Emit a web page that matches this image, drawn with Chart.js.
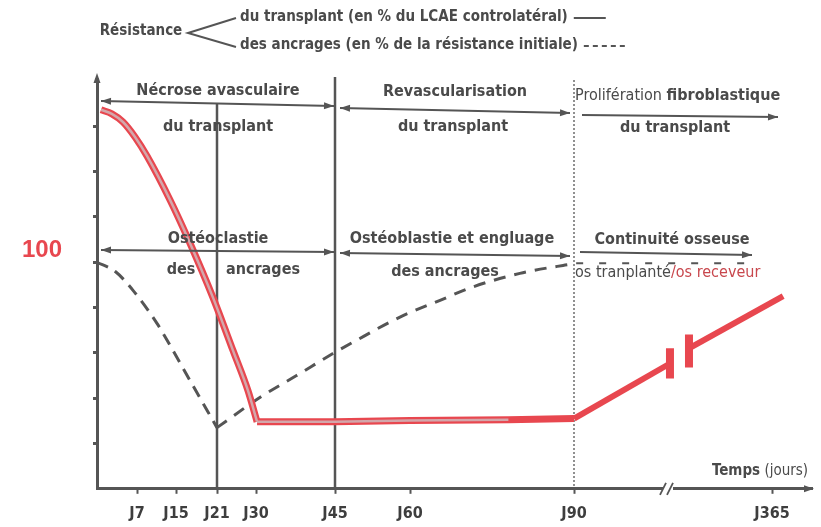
<!DOCTYPE html>
<html><head><meta charset="utf-8">
<script src="https://cdn.jsdelivr.net/npm/chart.js@4/dist/chart.umd.min.js"></script>
<style>html,body{margin:0;padding:0;background:#fff}#wrap{width:821px;height:527px}</style>
</head><body><div id="wrap"><canvas id="c" width="821" height="527"></canvas></div>
<script>
// ---------- DATA ----------
const xTickDays   = [7, 15, 21, 30, 45, 60, 90, 365];
const xTickLabels = ['J7', 'J15', 'J21', 'J30', 'J45', 'J60', 'J90', 'J365'];
const yTickValues = [20, 40, 60, 80, 100, 120, 140, 160];

// Résistance du transplant (% du LCAE controlatéral) — solid red
const transplantFallDays   = [0.7, 2.6, 4.55, 6.65, 9.05, 13.8, 17.05, 20.4, 24.7, 28.15, 30.2];
const transplantFallValues = [167.3, 165.5, 161.9, 155.3, 146.9, 127.4, 108.4, 84.5, 61.0, 43.3, 29.6];
const transplantFlatDays   = [30.2, 45, 60, 78, 90];
const transplantFlatValues = [29.6, 29.6, 30.1, 30.5, 31.0];
// late phase (after J90, broken axis)
const lateADays = [90, 223.3];     const lateAValues = [31.0, 55.3];
const breakADays = [223.3, 223.3]; const breakAValues = [48.7, 62.0];
const breakBDays = [249.7, 249.7]; const breakBValues = [53.5, 68.1];
const lateBDays = [249.7, 380.3];  const lateBValues = [62.0, 85.0];

// Résistance des ancrages (% de la résistance initiale) — dashed
const anchorDownDays   = [0, 3.15, 6.3, 11.1, 14.4, 17.05, 21];
const anchorDownValues = [100, 96.0, 87.6, 73.0, 61.0, 47.8, 27.0];
const anchorUpDays     = [21, 30.8, 37.7, 44.6, 48.6, 58, 65.5, 71.5, 80.1, 88, 90];
const anchorUpValues   = [27.0, 40.4, 50.0, 59.7, 64.7, 75.8, 83.2, 89.1, 95.1, 98.6, 99.3];
const anchorLateDays   = [93, 340];
const anchorLateValues = [99.6, 99.6];

// ---------- broken time scale (non-linear day axis as drawn) ----------
const xKnotDays = [0, 7, 15, 21, 30, 45, 60, 90, 365, 420];
const xKnotPx   = [97, 137, 176, 217, 256, 335, 410, 574, 772, 812];
const SPAN = xKnotPx[xKnotPx.length-1] - xKnotPx[0];
function dayToFrac(d){
  const n = xKnotDays.length;
  let i = 1;
  while (i < n-1 && d > xKnotDays[i]) i++;
  const t = (d - xKnotDays[i-1]) / (xKnotDays[i] - xKnotDays[i-1]);
  return (xKnotPx[i-1] + t*(xKnotPx[i]-xKnotPx[i-1]) - xKnotPx[0]) / SPAN;
}
function fracToDay(f){
  const p = xKnotPx[0] + f*SPAN, n = xKnotPx.length;
  let i = 1;
  while (i < n-1 && p > xKnotPx[i]) i++;
  const t = (p - xKnotPx[i-1]) / (xKnotPx[i] - xKnotPx[i-1]);
  return xKnotDays[i-1] + t*(xKnotDays[i]-xKnotDays[i-1]);
}
class BrokenTimeScale extends Chart.LinearScale {
  getPixelForValue(v){
    if (v === null || v === undefined || isNaN(v)) return NaN;
    return this.getPixelForDecimal(dayToFrac(v));
  }
  getValueForPixel(p){ return fracToDay(this.getDecimalForPixel(p)); }
}
BrokenTimeScale.id = 'brokenTime';
BrokenTimeScale.defaults = Chart.LinearScale.defaults;
Chart.register(BrokenTimeScale);

// ---------- styles ----------
const FF = '"Liberation Sans Narrow","DejaVu Sans Condensed","Arial Narrow",sans-serif';
const GRAY = '#555555';
const TXT = '#4a4a4a';
const RED = '#e8474f';
const PINK = '#d3a7ab';

const pts = (xs, ys) => xs.map((x, i) => ({x, y: ys[i]}));
const lineDs = (data, color, width, extra) => Object.assign({
  data, borderColor: color, borderWidth: width, pointRadius: 0, fill: false,
  tension: 0, borderCapStyle: 'butt', borderJoinStyle: 'round'
}, extra || {});
const MONO = {cubicInterpolationMode: 'monotone'};

const innerN = transplantFlatDays.indexOf(78) + 1;

// ---------- annotations plugin ----------
function txt(ctx, s, x, y, o){
  o = o || {};
  ctx.save();
  ctx.font = (o.bold === false ? '' : 'bold ') + (o.size || 16) + 'px ' + (o.family || FF);
  ctx.fillStyle = o.color || TXT;
  ctx.textAlign = o.align || 'center';
  ctx.textBaseline = 'middle';
  ctx.fillText(s, x, y);
  const w = ctx.measureText(s).width;
  ctx.restore();
  return w;
}
function head(ctx, x, y, ang){
  ctx.save(); ctx.translate(x, y); ctx.rotate(ang);
  ctx.beginPath(); ctx.moveTo(0, 0); ctx.lineTo(-10, -3.5); ctx.lineTo(-10, 3.5); ctx.closePath();
  ctx.fill(); ctx.restore();
}
function arrow(ctx, x1, y1, x2, y2, both){
  ctx.save();
  ctx.strokeStyle = GRAY; ctx.fillStyle = GRAY; ctx.lineWidth = 2;
  ctx.beginPath(); ctx.moveTo(x1, y1); ctx.lineTo(x2, y2); ctx.stroke();
  const a = Math.atan2(y2-y1, x2-x1);
  head(ctx, x2, y2, a);
  if (both) head(ctx, x1, y1, a + Math.PI);
  ctx.restore();
}

const annot = {
  id: 'annot',
  beforeDatasetsDraw(chart){
    const ctx = chart.ctx, xs = chart.scales.x, ys = chart.scales.y;
    const base = ys.getPixelForValue(0);
    ctx.save();
    ctx.strokeStyle = GRAY;
    ctx.lineWidth = 2.5;
    ctx.beginPath();
    ctx.moveTo(xs.getPixelForValue(21), 104); ctx.lineTo(xs.getPixelForValue(21), base);
    ctx.moveTo(xs.getPixelForValue(45), 77); ctx.lineTo(xs.getPixelForValue(45), base);
    ctx.stroke();
    ctx.lineWidth = 1.3; ctx.setLineDash([2, 2]);
    ctx.beginPath();
    ctx.moveTo(xs.getPixelForValue(90), 80); ctx.lineTo(xs.getPixelForValue(90), base);
    ctx.stroke();
    ctx.restore();
  },
  afterDraw(chart){
    const ctx = chart.ctx, xs = chart.scales.x, ys = chart.scales.y;
    const ax = xs.getPixelForValue(0), base = ys.getPixelForValue(0);
    ctx.save();
    ctx.fillStyle = GRAY; ctx.strokeStyle = GRAY;
    // y-axis arrow
    ctx.lineWidth = 3;
    ctx.beginPath(); ctx.moveTo(ax, chart.chartArea.top); ctx.lineTo(ax, 78); ctx.stroke();
    head(ctx, ax, 73, -Math.PI/2);
    // x-axis end arrow
    head(ctx, chart.chartArea.right + 2, base, 0);
    // axis break //
    ctx.fillStyle = '#fff';
    ctx.fillRect(663, base - 4, 10, 8);
    ctx.strokeStyle = GRAY; ctx.lineWidth = 1.8;
    ctx.beginPath();
    ctx.moveTo(660, base + 6); ctx.lineTo(666, base - 6);
    ctx.moveTo(667, base + 6); ctx.lineTo(673, base - 6);
    ctx.stroke();

    // legend
    txt(ctx, 'Résistance', 141, 31, {size: 15});
    ctx.lineWidth = 2; ctx.strokeStyle = GRAY;
    ctx.beginPath(); ctx.moveTo(236, 18); ctx.lineTo(188, 33); ctx.lineTo(236, 47); ctx.stroke();
    const w1 = txt(ctx, 'du transplant (en % du LCAE controlatéral)', 240, 17, {size: 15, align: 'left'});
    const w2 = txt(ctx, 'des ancrages (en % de la résistance initiale)', 240, 45, {size: 15, align: 'left'});
    ctx.beginPath(); ctx.moveTo(246 + w1, 18); ctx.lineTo(278 + w1, 18); ctx.stroke();
    ctx.setLineDash([5, 4]);
    ctx.beginPath(); ctx.moveTo(246 + w2, 46); ctx.lineTo(290 + w2, 46); ctx.stroke();
    ctx.setLineDash([]);

    // phase arrows row 1
    arrow(ctx, 101, 101, 334, 106, true);
    arrow(ctx, 340, 108, 570, 113, true);
    arrow(ctx, 582, 115, 778, 117, false);
    // row 2
    arrow(ctx, 101, 250, 334, 252, true);
    arrow(ctx, 340, 253, 570, 256, true);
    arrow(ctx, 580, 252, 752, 255, false);

    // phase texts
    txt(ctx, 'Nécrose avasculaire', 218, 91);
    txt(ctx, 'du transplant', 218, 127);
    txt(ctx, 'Revascularisation', 455, 92);
    txt(ctx, 'du transplant', 453, 127);
    const wp = txt(ctx, 'Prolifération ', 575, 96, {bold: false, align: 'left'});
    txt(ctx, 'fibroblastique', 575 + wp, 96, {align: 'left'});
    txt(ctx, 'du transplant', 675, 128);
    txt(ctx, 'Ostéoclastie', 218, 239);
    txt(ctx, 'des', 181, 270);
    txt(ctx, 'ancrages', 263, 270);
    txt(ctx, 'Ostéoblastie et engluage', 452, 239);
    txt(ctx, 'des ancrages', 445, 272);
    txt(ctx, 'Continuité osseuse', 672, 240);
    const wo = txt(ctx, 'os tranplanté', 575, 273, {bold: false, align: 'left'});
    txt(ctx, '/os receveur', 575 + wo, 273, {bold: false, align: 'left', color: '#c8474d'});
    const wt = txt(ctx, 'Temps', 712, 471, {size: 15, align: 'left'});
    txt(ctx, ' (jours)', 712 + wt, 471, {size: 15, align: 'left', bold: false});
    txt(ctx, '100', 42, 250, {size: 24, color: RED, family: '"Liberation Sans", Arial, sans-serif'});
    ctx.restore();
  }
};

new Chart(document.getElementById('c'), {
  type: 'line',
  data: {
    datasets: [
      lineDs(pts(transplantFallDays, transplantFallValues), PINK, 2.5, MONO),
      lineDs(pts(transplantFlatDays.slice(0, innerN), transplantFlatValues.slice(0, innerN)), PINK, 2.5),
      lineDs(pts(transplantFallDays, transplantFallValues), RED, 7, MONO),
      lineDs(pts(transplantFlatDays, transplantFlatValues), RED, 7),
      lineDs(pts(lateADays, lateAValues), RED, 6),
      lineDs(pts(breakADays, breakAValues), RED, 8),
      lineDs(pts(breakBDays, breakBValues), RED, 8),
      lineDs(pts(lateBDays, lateBValues), RED, 6),
      lineDs(pts(anchorDownDays, anchorDownValues), GRAY, 3, Object.assign({borderDash: [12, 8]}, MONO)),
      lineDs(pts(anchorUpDays, anchorUpValues), GRAY, 3, Object.assign({borderDash: [12, 9]}, MONO)),
      lineDs(pts(anchorLateDays, anchorLateValues), GRAY, 2, {borderDash: [7, 16]})
    ]
  },
  options: {
    responsive: false,
    animation: false,
    events: [],
    layout: {padding: {left: 93, right: 9, top: 81, bottom: -6}},
    plugins: {legend: {display: false}, tooltip: {enabled: false}},
    scales: {
      x: {
        type: 'brokenTime', min: 0, max: 420,
        afterBuildTicks: s => { s.ticks = xTickDays.map(v => ({value: v})); },
        ticks: {
          autoSkip: false, maxRotation: 0, padding: 10, color: '#3e3e3e',
          font: {family: FF, size: 16, weight: 'bold'},
          callback: v => xTickLabels[xTickDays.indexOf(v)]
        },
        grid: {display: true, drawOnChartArea: false, drawTicks: true, tickLength: 5, tickWidth: 2, tickColor: GRAY},
        border: {display: true, color: GRAY, width: 3}
      },
      y: {
        min: 0, max: 180,
        afterBuildTicks: s => { s.ticks = yTickValues.map(v => ({value: v})); },
        ticks: {display: false},
        grid: {display: true, drawOnChartArea: false, drawTicks: true, tickLength: 4, tickWidth: 3, tickColor: GRAY},
        border: {display: true, color: GRAY, width: 3}
      }
    }
  },
  plugins: [annot]
});
</script></body></html>
